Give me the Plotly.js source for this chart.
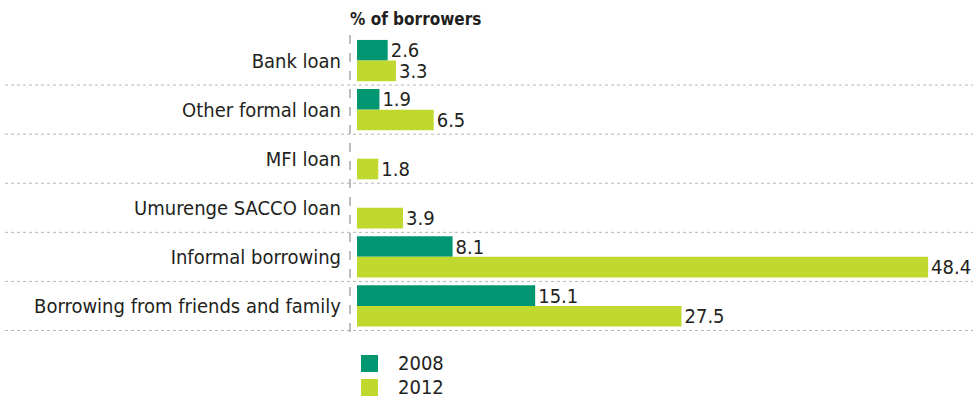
<!DOCTYPE html>
<html>
<head>
<meta charset="utf-8">
<script src="https://cdn.plot.ly/plotly-3.0.1.min.js"></script>
<style>
html,body{margin:0;padding:0;background:#fff;}
#chart{width:973px;height:398px;}
</style>
</head>
<body>
<div id="chart"></div>
<script>
// ---- data ----
const categories = [
  "Bank loan",
  "Other formal loan",
  "MFI loan",
  "Umurenge SACCO loan",
  "Informal borrowing",
  "Borrowing from friends and family"
];
const seriesNames = ["2008", "2012"];
const values2008 = [2.6, 1.9, null, null, 8.1, 15.1];
const values2012 = [3.3, 6.5, 1.8, 3.9, 48.4, 27.5];
const axisTitle = "% of borrowers";

// ---- styling ----
const colors = ["#009672", "#c1d82f"];
const FONT = "'DejaVu Sans Condensed', 'DejaVu Sans', sans-serif";
const W = 973, H = 398;
const M = {l: 357, r: 0, t: 36, b: 67};
const plotH = H - M.t - M.b;
const plotW = W - M.l - M.r;
const px2paperX = px => (px - M.l) / plotW;
const px2paperY = py => (H - M.b - py) / plotH;

function barTrace(name, vals, color) {
  return {
    type: "bar",
    orientation: "h",
    name: name,
    y: categories,
    x: vals,
    marker: {color: color, line: {width: 0}},
    texttemplate: "%{x:.1f}",
    textposition: "outside",
    constraintext: "none",
    cliponaxis: false,
    outsidetextfont: {family: FONT, size: 20, color: "#231f20"},
    hoverinfo: "skip",
    showlegend: false
  };
}

const traces = [
  barTrace(seriesNames[0], values2008, colors[0]),
  barTrace(seriesNames[1], values2012, colors[1])
];

const shapes = [];
// row separators
for (let i = 0; i < categories.length; i++) {
  shapes.push({
    type: "line", xref: "paper", yref: "y",
    x0: px2paperX(5), x1: 1, y0: i + 0.5, y1: i + 0.5,
    line: {color: "#b5b5b5", width: 1, dash: "dot"}
  });
}
// vertical dashed baseline
shapes.push({
  type: "line", xref: "paper", yref: "paper",
  x0: px2paperX(350), x1: px2paperX(350),
  y0: px2paperY(35), y1: px2paperY(332),
  line: {color: "#a8a8a8", width: 1.5, dash: "dash"}
});

// legend (drawn as squares + labels)
const annotations = [];
const legendTop = [355, 379];
seriesNames.forEach((nm, i) => {
  shapes.push({
    type: "rect", xref: "paper", yref: "paper",
    x0: px2paperX(361), x1: px2paperX(378),
    y0: px2paperY(legendTop[i]), y1: px2paperY(legendTop[i] + 17),
    fillcolor: colors[i], line: {width: 0}
  });
  annotations.push({
    xref: "paper", yref: "paper",
    x: px2paperX(396), y: px2paperY(legendTop[i] + 8),
    xanchor: "left", yanchor: "middle",
    text: nm, showarrow: false,
    font: {family: FONT, size: 20, color: "#231f20"}
  });
});

const layout = {
  width: W, height: H,
  margin: M,
  paper_bgcolor: "#fff", plot_bgcolor: "#fff",
  barmode: "group",
  bargap: 0.16,
  bargroupgap: 0,
  showlegend: false,
  title: {
    text: "<b>" + axisTitle + "</b>",
    xref: "container", yref: "container",
    x: 350 / W, xanchor: "left",
    y: 1 - 19 / H, yanchor: "middle",
    font: {family: FONT, size: 17, color: "#231f20"}
  },
  xaxis: {
    range: [0, plotW / 11.8],
    visible: false,
    fixedrange: true
  },
  yaxis: {
    type: "category",
    autorange: "reversed",
    showgrid: false, zeroline: false, showline: false,
    ticks: "",
    ticklabelstandoff: 15,
    tickfont: {family: FONT, size: 20, color: "#231f20"},
    fixedrange: true
  },
  shapes: shapes,
  annotations: annotations
};

Plotly.newPlot("chart", traces, layout, {displayModeBar: false, staticPlot: true});
</script>
</body>
</html>
